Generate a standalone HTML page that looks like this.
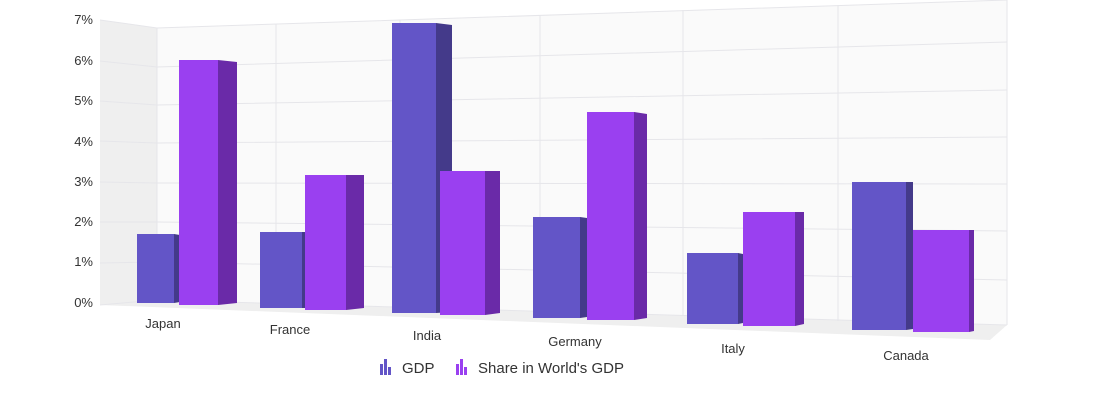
<!DOCTYPE html>
<html><head><meta charset="utf-8"><style>
html,body{margin:0;padding:0;background:#fff;width:1098px;height:410px;overflow:hidden}
text{font-family:"Liberation Sans",Arial,sans-serif;fill:#333}
</style></head><body>
<svg width="1098" height="410" viewBox="0 0 1098 410" xmlns="http://www.w3.org/2000/svg">
<!-- side wall -->
<polygon points="100,20 157,28 157,300 100,305" fill="#efefef"/>
<!-- back wall -->
<polygon points="157,28 1007,0 1007,325 157,300" fill="#fafafa"/>
<!-- floor -->
<polygon points="100,305 157,300 1007,325 990,340" fill="#efefef"/>
<g stroke="#e6e6ea" stroke-width="1" fill="none">
<polyline points="100,20 157,28 1007,0"/>
<polyline points="100,61 157,67 1007,42"/>
<polyline points="100,101 157,105 1007,90"/>
<polyline points="100,141 157,143 1007,137"/>
<polyline points="100,182 157,183 1007,184"/>
<polyline points="100,222 157,222 1007,231"/>
<polyline points="100,263 157,262 1007,280"/>
<polyline points="100,305 157,300 1007,325"/>
<line x1="157" y1="28" x2="157" y2="300"/>
<line x1="276" y1="24" x2="276" y2="304"/>
<line x1="400" y1="20" x2="400" y2="308"/>
<line x1="540" y1="15" x2="540" y2="312"/>
<line x1="683" y1="10" x2="683" y2="316"/>
<line x1="838" y1="5" x2="838" y2="321"/>
<line x1="1007" y1="0" x2="1007" y2="325"/>
</g>
<g font-size="13" text-anchor="end">
<text x="93" y="24">7%</text><text x="93" y="65">6%</text><text x="93" y="105">5%</text>
<text x="93" y="146">4%</text><text x="93" y="186">3%</text><text x="93" y="226">2%</text>
<text x="93" y="266">1%</text><text x="93" y="307">0%</text>
</g>
<!-- columns -->
<g>
<polygon points="174,234 180,235 180,302 174,303" fill="#443a8a"/><rect x="137" y="234" width="37" height="69" fill="#6355c7"/>
<polygon points="218,60 237,62 237,303 218,305" fill="#6a2aa8"/><rect x="179" y="60" width="39" height="245" fill="#9a40f0"/>
<polygon points="302,232 305,232 305,308 302,308" fill="#443a8a"/><rect x="260" y="232" width="42" height="76" fill="#6355c7"/>
<polygon points="346,175 364,175 364,308 346,310" fill="#6a2aa8"/><rect x="305" y="175" width="41" height="135" fill="#9a40f0"/>
<polygon points="436,23 452,25 452,312 436,313" fill="#443a8a"/><rect x="392" y="23" width="44" height="290" fill="#6355c7"/>
<polygon points="485,171 500,171 500,313 485,315" fill="#6a2aa8"/><rect x="440" y="171" width="45" height="144" fill="#9a40f0"/>
<polygon points="580,217 587,218 587,317 580,318" fill="#443a8a"/><rect x="533" y="217" width="47" height="101" fill="#6355c7"/>
<polygon points="634,112 647,114 647,318 634,320" fill="#6a2aa8"/><rect x="587" y="112" width="47" height="208" fill="#9a40f0"/>
<polygon points="738,253 743,254 743,323 738,324" fill="#443a8a"/><rect x="687" y="253" width="51" height="71" fill="#6355c7"/>
<polygon points="795,212 804,212 804,324 795,326" fill="#6a2aa8"/><rect x="743" y="212" width="52" height="114" fill="#9a40f0"/>
<polygon points="906,182 913,182 913,329 906,330" fill="#443a8a"/><rect x="852" y="182" width="54" height="148" fill="#6355c7"/>
<polygon points="969,230 974,230 974,331 969,332" fill="#6a2aa8"/><rect x="913" y="230" width="56" height="102" fill="#9a40f0"/>
</g>
<g font-size="13" text-anchor="middle">
<text x="163" y="328">Japan</text><text x="290" y="334">France</text><text x="427" y="340">India</text>
<text x="575" y="346">Germany</text><text x="733" y="353">Italy</text><text x="906" y="360">Canada</text>
</g>
<!-- legend -->
<g fill="#6355c7"><rect x="380" y="364" width="3" height="11"/><rect x="384" y="359" width="3" height="16"/><rect x="388" y="367" width="3" height="8"/></g>
<text x="402" y="373" font-size="15">GDP</text>
<g fill="#9a40f0"><rect x="456" y="364" width="3" height="11"/><rect x="460" y="359" width="3" height="16"/><rect x="464" y="367" width="3" height="8"/></g>
<text x="478" y="373" font-size="15">Share in World's GDP</text>
</svg>
</body></html>
